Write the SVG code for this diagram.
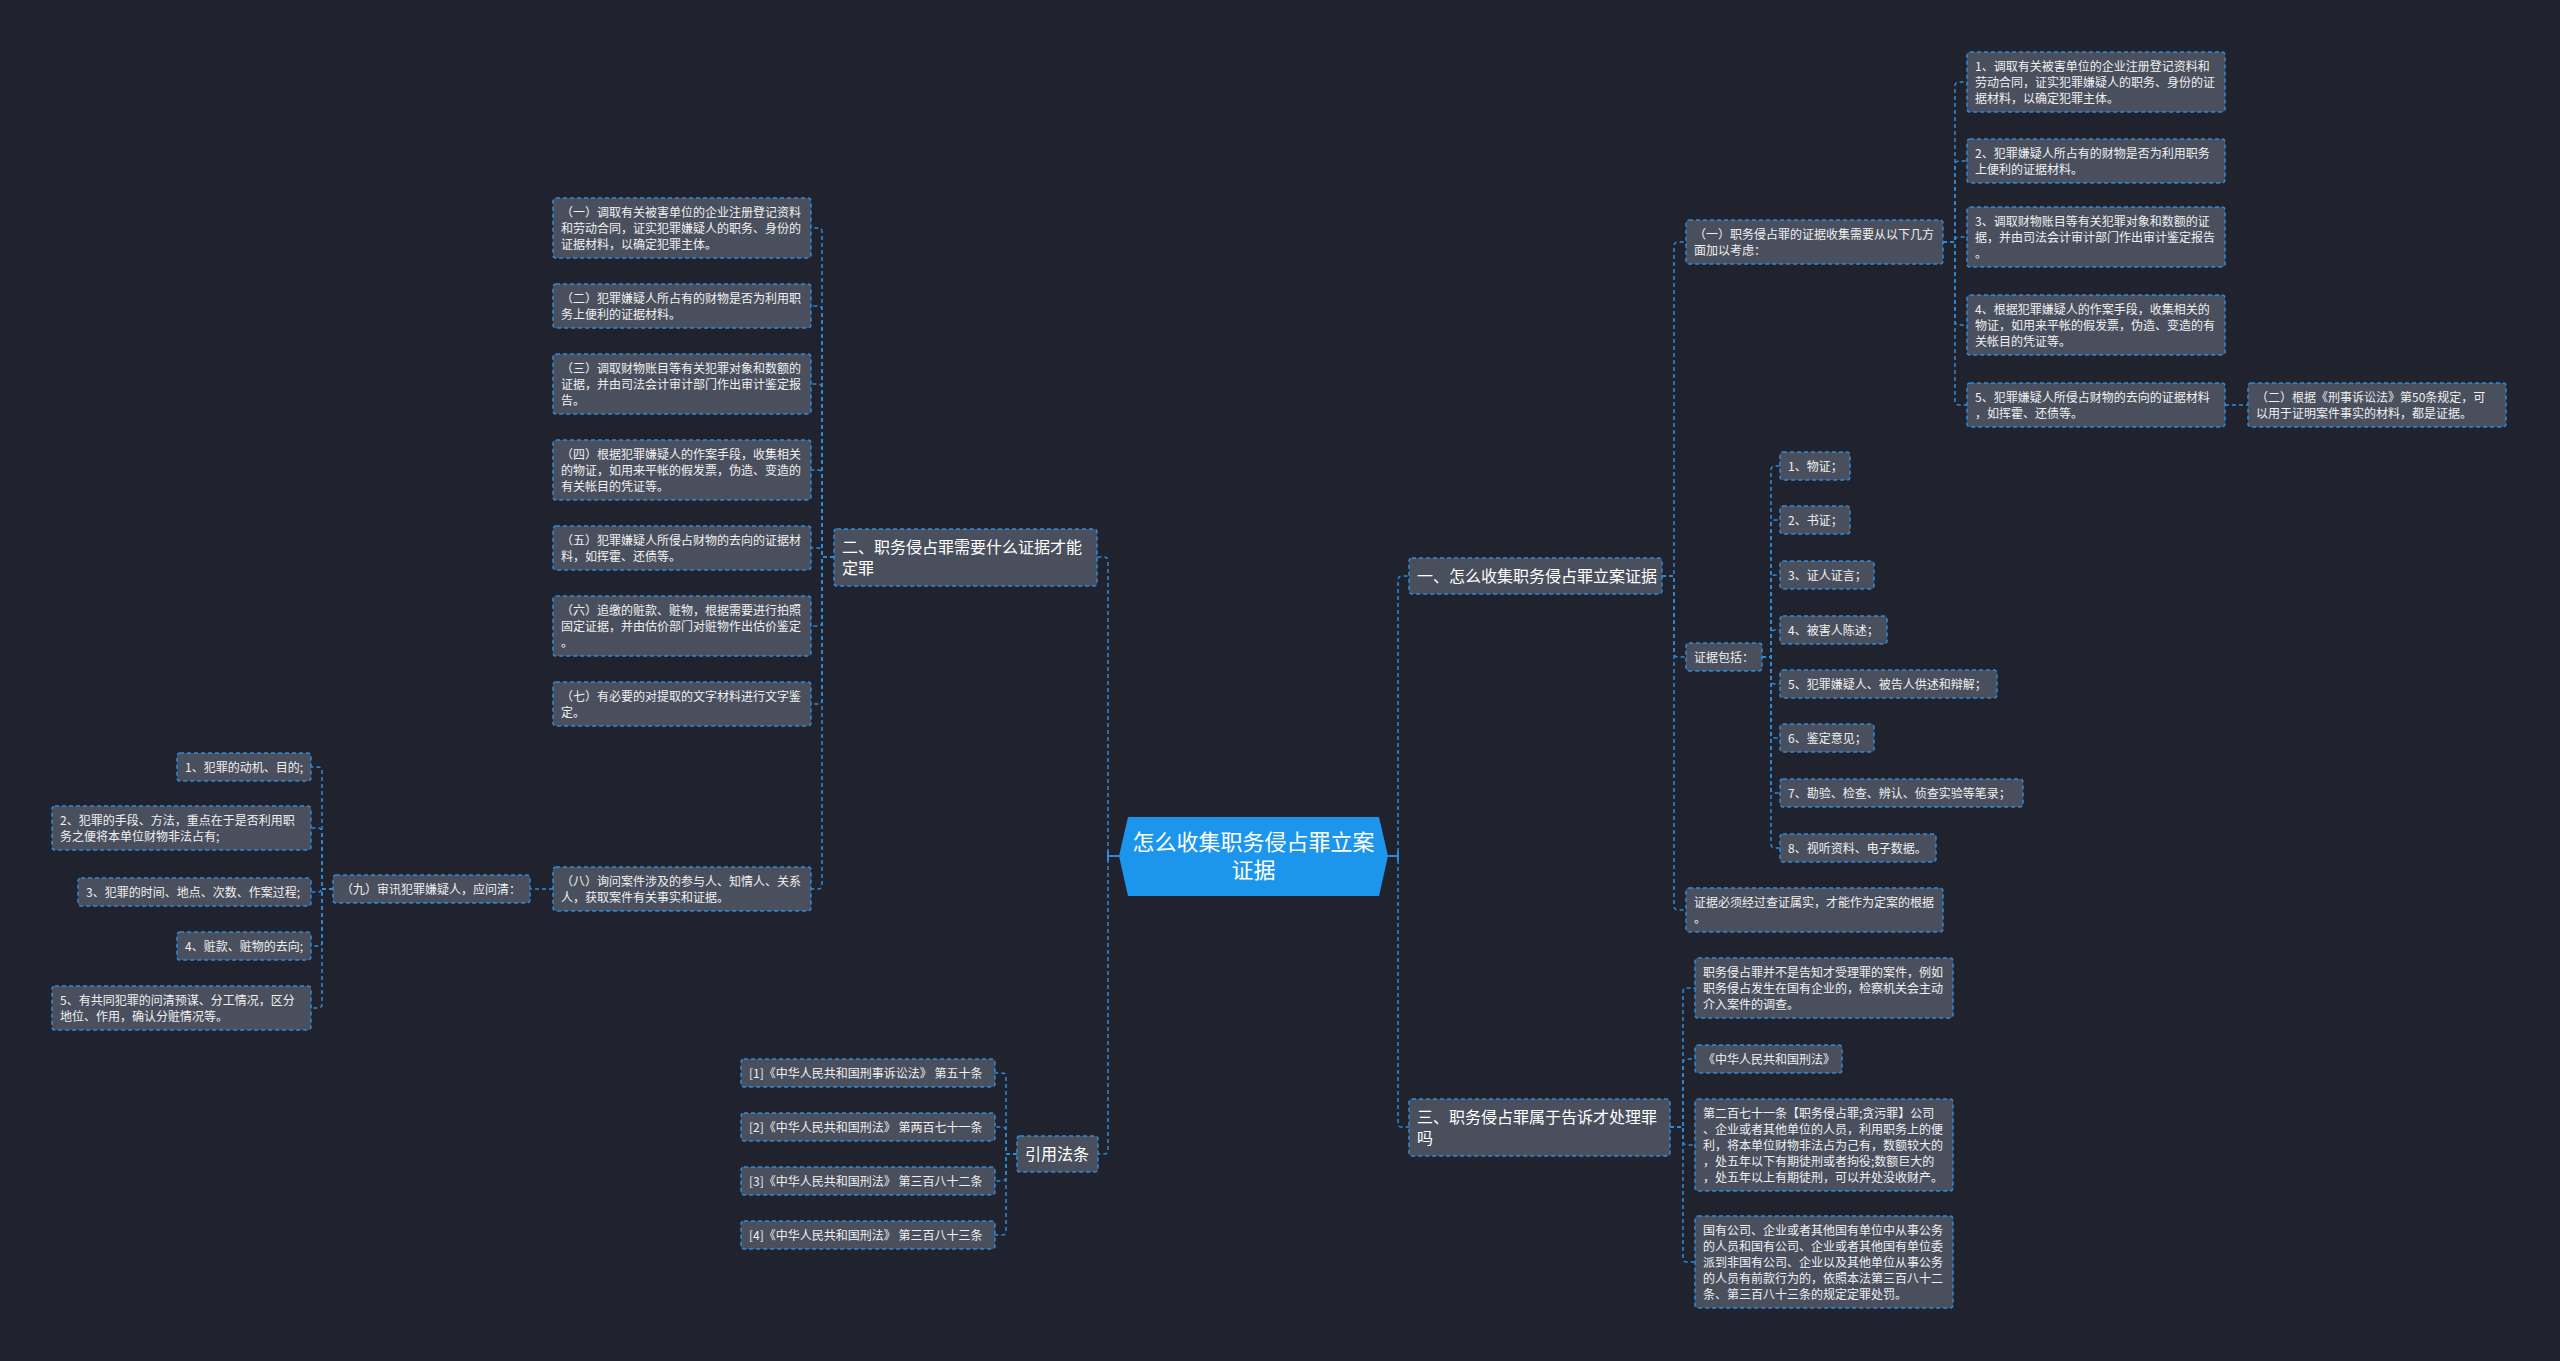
<svg xmlns="http://www.w3.org/2000/svg" width="2560" height="1361" viewBox="0 0 2560 1361">
<style>
.bg{fill:#20232e}
.n rect{fill:#4a4f5e;stroke:#2e8ad8;stroke-width:1.5;stroke-dasharray:4 3}
.n text{font-family:"Noto Sans CJK SC","Noto Sans",sans-serif;font-size:12px;fill:#f0f0f0}
.n text.l1{font-size:16px;fill:#ffffff}
.c path{fill:none;stroke:#2e8ad8;stroke-width:1.5;stroke-dasharray:4 3}
.c line.s{stroke:#2e8ad8;stroke-width:2}
.root polygon{fill:#1c95ec}
.root text{font-family:"Noto Sans CJK SC","Noto Sans",sans-serif;font-size:22px;fill:#ffffff;text-anchor:middle}
</style>
<rect class="bg" x="0" y="0" width="2560" height="1361"/>

<g id="connectors" class="c">
<!-- root right -->
<path d="M1388 856 H1398 V580 Q1398 576 1402 576 H1409"/>
<path d="M1388 856 H1398 V1123 Q1398 1127 1402 1127 H1409"/>
<!-- root left -->
<path d="M1119 856 H1108 V561 Q1108 557 1104 557 H1097"/>
<path d="M1119 856 H1108 V1150 Q1108 1154 1104 1154 H1098"/>
<line class="s" x1="1388" y1="856" x2="1398" y2="856"/>
<line class="s" x1="1398" y1="851" x2="1398" y2="861"/>
<line class="s" x1="1108" y1="856" x2="1119" y2="856"/>
<line class="s" x1="1108" y1="851" x2="1108" y2="861"/>
<!-- 一 -->
<path d="M1662 576 H1674 V246 Q1674 242 1678 242 H1686"/>
<path d="M1662 576 H1674 V653 Q1674 657 1678 657 H1686"/>
<path d="M1662 576 H1674 V906 Q1674 910 1678 910 H1686"/>
<!-- (一) -->
<path d="M1943 242 H1955 V86 Q1955 82 1959 82 H1967"/>
<path d="M1943 242 H1955 V165 Q1955 161 1959 161 H1967"/>
<path d="M1943 242 H1955 V241 Q1955 237 1959 237 H1967"/>
<path d="M1943 242 H1955 V321 Q1955 325 1959 325 H1967"/>
<path d="M1943 242 H1955 V401 Q1955 405 1959 405 H1967"/>
<path d="M2225 405 H2248"/>
<!-- 证据包括 -->
<path d="M1762 657 H1771 V470 Q1771 466 1775 466 H1780"/>
<path d="M1762 657 H1771 V524 Q1771 520 1775 520 H1780"/>
<path d="M1762 657 H1771 V579 Q1771 575 1775 575 H1780"/>
<path d="M1762 657 H1771 V634 Q1771 630 1775 630 H1780"/>
<path d="M1762 657 H1771 V680 Q1771 684 1775 684 H1780"/>
<path d="M1762 657 H1771 V734 Q1771 738 1775 738 H1780"/>
<path d="M1762 657 H1771 V789 Q1771 793 1775 793 H1780"/>
<path d="M1762 657 H1771 V844 Q1771 848 1775 848 H1780"/>
<!-- 三 -->
<path d="M1670 1127 H1683 V992 Q1683 988 1687 988 H1695"/>
<path d="M1670 1127 H1683 V1063 Q1683 1059 1687 1059 H1695"/>
<path d="M1670 1127 H1683 V1141 Q1683 1145 1687 1145 H1695"/>
<path d="M1670 1127 H1683 V1258 Q1683 1262 1687 1262 H1695"/>
<!-- 二 -->
<path d="M834 557 H822 V232 Q822 228 818 228 H811"/>
<path d="M834 557 H822 V310 Q822 306 818 306 H811"/>
<path d="M834 557 H822 V388 Q822 384 818 384 H811"/>
<path d="M834 557 H822 V474 Q822 470 818 470 H811"/>
<path d="M834 557 H822 V552 Q822 548 818 548 H811"/>
<path d="M834 557 H822 V622 Q822 626 818 626 H811"/>
<path d="M834 557 H822 V700 Q822 704 818 704 H811"/>
<path d="M834 557 H822 V885 Q822 889 818 889 H811"/>
<!-- (八) to (九) -->
<path d="M553 889 H530"/>
<!-- (九) -->
<path d="M333 889 H322 V771 Q322 767 318 767 H311"/>
<path d="M333 889 H322 V832 Q322 828 318 828 H311"/>
<path d="M333 889 H322 V888 Q322 892 318 892 H311"/>
<path d="M333 889 H322 V942 Q322 946 318 946 H311"/>
<path d="M333 889 H322 V1004 Q322 1008 318 1008 H311"/>
<!-- 引用法条 -->
<path d="M1017 1154 H1006 V1077 Q1006 1073 1002 1073 H995"/>
<path d="M1017 1154 H1006 V1131 Q1006 1127 1002 1127 H995"/>
<path d="M1017 1154 H1006 V1177 Q1006 1181 1002 1181 H995"/>
<path d="M1017 1154 H1006 V1231 Q1006 1235 1002 1235 H995"/>
</g>

<g id="root" class="root">
<polygon points="1119,856 1128,817 1379,817 1388,856 1379,896 1128,896"/>
<text x="1253.5" y="850">怎么收集职务侵占罪立案</text>
<text x="1253.5" y="878">证据</text>
</g>

<g id="n-yi" class="n"><rect x="1409" y="558" width="253" height="36" rx="3"/><text class="l1" x="1417" y="582">一、怎么收集职务侵占罪立案证据</text></g>
<g id="n-san" class="n"><rect x="1409" y="1099" width="261" height="57" rx="3"/><text class="l1" x="1417" y="1123">三、职务侵占罪属于告诉才处理罪</text><text class="l1" x="1417" y="1144">吗</text></g>
<g id="n-er" class="n"><rect x="834" y="529" width="263" height="57" rx="3"/><text class="l1" x="842" y="553">二、职务侵占罪需要什么证据才能</text><text class="l1" x="842" y="574">定罪</text></g>
<g id="n-yinyong" class="n"><rect x="1017" y="1136" width="81" height="36" rx="3"/><text class="l1" x="1025" y="1160">引用法条</text></g>

<g id="n-yi-1" class="n"><rect x="1686" y="220" width="257" height="44" rx="3"/><text x="1694" y="238.5">（一）职务侵占罪的证据收集需要从以下几方</text><text x="1694" y="254.5">面加以考虑：</text></g>
<g id="n-r1" class="n"><rect x="1967" y="52" width="258" height="60" rx="3"/><text x="1975" y="70.5">1、调取有关被害单位的企业注册登记资料和</text><text x="1975" y="86.5">劳动合同，证实犯罪嫌疑人的职务、身份的证</text><text x="1975" y="102.5">据材料，以确定犯罪主体。</text></g>
<g id="n-r2" class="n"><rect x="1967" y="139" width="258" height="44" rx="3"/><text x="1975" y="157.5">2、犯罪嫌疑人所占有的财物是否为利用职务</text><text x="1975" y="173.5">上便利的证据材料。</text></g>
<g id="n-r3" class="n"><rect x="1967" y="207" width="258" height="60" rx="3"/><text x="1975" y="225.5">3、调取财物账目等有关犯罪对象和数额的证</text><text x="1975" y="241.5">据，并由司法会计审计部门作出审计鉴定报告</text><text x="1975" y="257.5">。</text></g>
<g id="n-r4" class="n"><rect x="1967" y="295" width="258" height="60" rx="3"/><text x="1975" y="313.5">4、根据犯罪嫌疑人的作案手段，收集相关的</text><text x="1975" y="329.5">物证，如用来平帐的假发票，伪造、变造的有</text><text x="1975" y="345.5">关帐目的凭证等。</text></g>
<g id="n-r5" class="n"><rect x="1967" y="383" width="258" height="44" rx="3"/><text x="1975" y="401.5">5、犯罪嫌疑人所侵占财物的去向的证据材料</text><text x="1975" y="417.5">，如挥霍、还债等。</text></g>
<g id="n-r-er" class="n"><rect x="2248" y="383" width="258" height="44" rx="3"/><text x="2256" y="401.5">（二）根据《刑事诉讼法》第50条规定，可</text><text x="2256" y="417.5">以用于证明案件事实的材料，都是证据。</text></g>

<g id="n-zjbk" class="n"><rect x="1686" y="643" width="76" height="28" rx="3"/><text x="1694" y="661.5">证据包括：</text></g>
<g id="n-e1" class="n"><rect x="1780" y="452" width="70" height="28" rx="3"/><text x="1788" y="470.5">1、物证；</text></g>
<g id="n-e2" class="n"><rect x="1780" y="506" width="70" height="28" rx="3"/><text x="1788" y="524.5">2、书证；</text></g>
<g id="n-e3" class="n"><rect x="1780" y="561" width="94" height="28" rx="3"/><text x="1788" y="579.5">3、证人证言；</text></g>
<g id="n-e4" class="n"><rect x="1780" y="616" width="107" height="28" rx="3"/><text x="1788" y="634.5">4、被害人陈述；</text></g>
<g id="n-e5" class="n"><rect x="1780" y="670" width="217" height="28" rx="3"/><text x="1788" y="688.5">5、犯罪嫌疑人、被告人供述和辩解；</text></g>
<g id="n-e6" class="n"><rect x="1780" y="724" width="94" height="28" rx="3"/><text x="1788" y="742.5">6、鉴定意见；</text></g>
<g id="n-e7" class="n"><rect x="1780" y="779" width="243" height="28" rx="3"/><text x="1788" y="797.5">7、勘验、检查、辨认、侦查实验等笔录；</text></g>
<g id="n-e8" class="n"><rect x="1780" y="834" width="156" height="28" rx="3"/><text x="1788" y="852.5">8、视听资料、电子数据。</text></g>
<g id="n-zjbx" class="n"><rect x="1686" y="888" width="257" height="44" rx="3"/><text x="1694" y="906.5">证据必须经过查证属实，才能作为定案的根据</text><text x="1694" y="922.5">。</text></g>

<g id="n-s1" class="n"><rect x="1695" y="958" width="258" height="60" rx="3"/><text x="1703" y="976.5">职务侵占罪并不是告知才受理罪的案件，例如</text><text x="1703" y="992.5">职务侵占发生在国有企业的，检察机关会主动</text><text x="1703" y="1008.5">介入案件的调查。</text></g>
<g id="n-s2" class="n"><rect x="1695" y="1045" width="147" height="28" rx="3"/><text x="1703" y="1063.5">《中华人民共和国刑法》</text></g>
<g id="n-s3" class="n"><rect x="1695" y="1099" width="258" height="92" rx="3"/><text x="1703" y="1117.5">第二百七十一条【职务侵占罪;贪污罪】公司</text><text x="1703" y="1133.5">、企业或者其他单位的人员，利用职务上的便</text><text x="1703" y="1149.5">利，将本单位财物非法占为己有，数额较大的</text><text x="1703" y="1165.5">，处五年以下有期徒刑或者拘役;数额巨大的</text><text x="1703" y="1181.5">，处五年以上有期徒刑，可以并处没收财产。</text></g>
<g id="n-s4" class="n"><rect x="1695" y="1216" width="258" height="92" rx="3"/><text x="1703" y="1234.5">国有公司、企业或者其他国有单位中从事公务</text><text x="1703" y="1250.5">的人员和国有公司、企业或者其他国有单位委</text><text x="1703" y="1266.5">派到非国有公司、企业以及其他单位从事公务</text><text x="1703" y="1282.5">的人员有前款行为的，依照本法第三百八十二</text><text x="1703" y="1298.5">条、第三百八十三条的规定定罪处罚。</text></g>

<g id="n-l1" class="n"><rect x="553" y="198" width="258" height="60" rx="3"/><text x="561" y="216.5">（一）调取有关被害单位的企业注册登记资料</text><text x="561" y="232.5">和劳动合同，证实犯罪嫌疑人的职务、身份的</text><text x="561" y="248.5">证据材料，以确定犯罪主体。</text></g>
<g id="n-l2" class="n"><rect x="553" y="284" width="258" height="44" rx="3"/><text x="561" y="302.5">（二）犯罪嫌疑人所占有的财物是否为利用职</text><text x="561" y="318.5">务上便利的证据材料。</text></g>
<g id="n-l3" class="n"><rect x="553" y="354" width="258" height="60" rx="3"/><text x="561" y="372.5">（三）调取财物账目等有关犯罪对象和数额的</text><text x="561" y="388.5">证据，并由司法会计审计部门作出审计鉴定报</text><text x="561" y="404.5">告。</text></g>
<g id="n-l4" class="n"><rect x="553" y="440" width="258" height="60" rx="3"/><text x="561" y="458.5">（四）根据犯罪嫌疑人的作案手段，收集相关</text><text x="561" y="474.5">的物证，如用来平帐的假发票，伪造、变造的</text><text x="561" y="490.5">有关帐目的凭证等。</text></g>
<g id="n-l5" class="n"><rect x="553" y="526" width="258" height="44" rx="3"/><text x="561" y="544.5">（五）犯罪嫌疑人所侵占财物的去向的证据材</text><text x="561" y="560.5">料，如挥霍、还债等。</text></g>
<g id="n-l6" class="n"><rect x="553" y="596" width="258" height="60" rx="3"/><text x="561" y="614.5">（六）追缴的赃款、赃物，根据需要进行拍照</text><text x="561" y="630.5">固定证据，并由估价部门对赃物作出估价鉴定</text><text x="561" y="646.5">。</text></g>
<g id="n-l7" class="n"><rect x="553" y="682" width="258" height="44" rx="3"/><text x="561" y="700.5">（七）有必要的对提取的文字材料进行文字鉴</text><text x="561" y="716.5">定。</text></g>
<g id="n-l8" class="n"><rect x="553" y="867" width="258" height="44" rx="3"/><text x="561" y="885.5">（八）询问案件涉及的参与人、知情人、关系</text><text x="561" y="901.5">人，获取案件有关事实和证据。</text></g>
<g id="n-l9" class="n"><rect x="333" y="875" width="197" height="28" rx="3"/><text x="341" y="893.5">（九）审讯犯罪嫌疑人，应问清：</text></g>

<g id="n-q1" class="n"><rect x="177" y="753" width="134" height="28" rx="3"/><text x="185" y="771.5">1、犯罪的动机、目的;</text></g>
<g id="n-q2" class="n"><rect x="52" y="806" width="259" height="44" rx="3"/><text x="60" y="824.5">2、犯罪的手段、方法，重点在于是否利用职</text><text x="60" y="840.5">务之便将本单位财物非法占有;</text></g>
<g id="n-q3" class="n"><rect x="78" y="878" width="233" height="28" rx="3"/><text x="86" y="896.5">3、犯罪的时间、地点、次数、作案过程;</text></g>
<g id="n-q4" class="n"><rect x="177" y="932" width="134" height="28" rx="3"/><text x="185" y="950.5">4、赃款、赃物的去向;</text></g>
<g id="n-q5" class="n"><rect x="52" y="986" width="259" height="44" rx="3"/><text x="60" y="1004.5">5、有共同犯罪的问清预谋、分工情况，区分</text><text x="60" y="1020.5">地位、作用，确认分赃情况等。</text></g>

<g id="n-c1" class="n"><rect x="741" y="1059" width="254" height="28" rx="3"/><text x="749" y="1077.5">[1]《中华人民共和国刑事诉讼法》 第五十条</text></g>
<g id="n-c2" class="n"><rect x="741" y="1113" width="254" height="28" rx="3"/><text x="749" y="1131.5">[2]《中华人民共和国刑法》 第两百七十一条</text></g>
<g id="n-c3" class="n"><rect x="741" y="1167" width="254" height="28" rx="3"/><text x="749" y="1185.5">[3]《中华人民共和国刑法》 第三百八十二条</text></g>
<g id="n-c4" class="n"><rect x="741" y="1221" width="254" height="28" rx="3"/><text x="749" y="1239.5">[4]《中华人民共和国刑法》 第三百八十三条</text></g>
</svg>
